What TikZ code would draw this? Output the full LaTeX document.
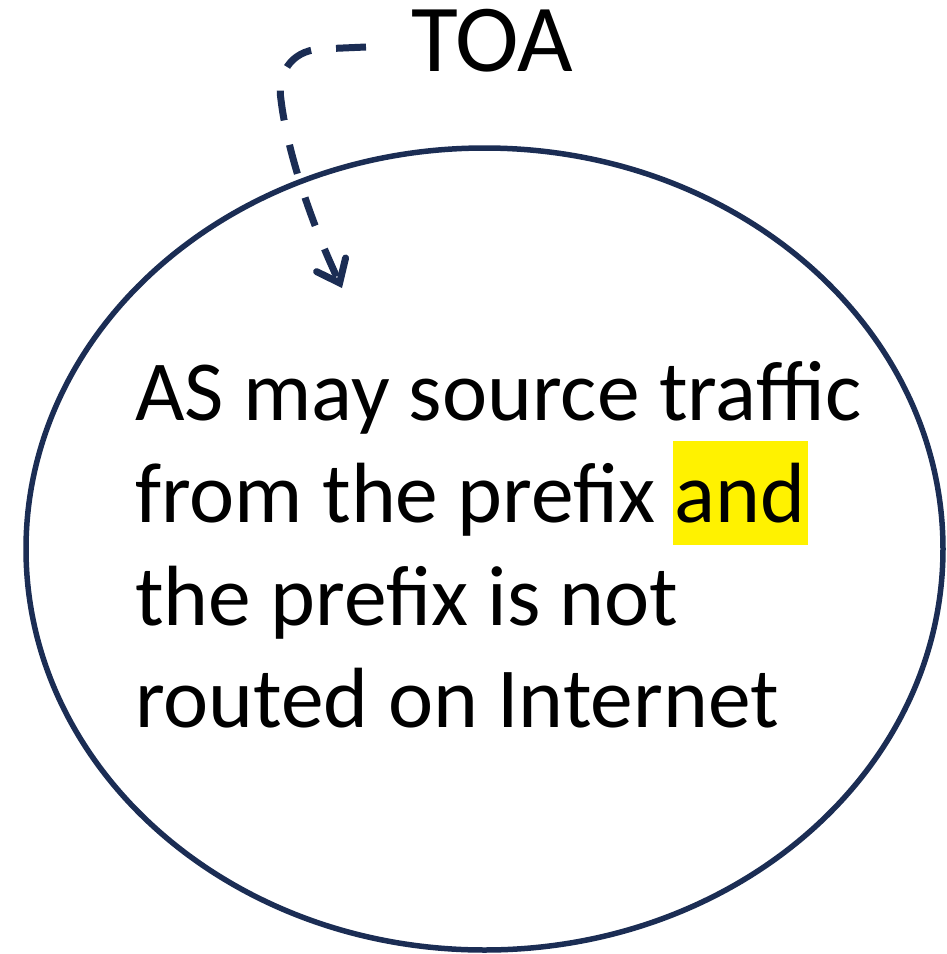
\documentclass[tikz,border=0pt]{standalone}
\usepackage{fontspec}
\setmainfont{Carlito}
\usetikzlibrary{shapes.geometric,arrows.meta}
\definecolor{navy}{HTML}{1B2D54}
% yellow highlight behind a word
\newcommand{\hlword}[1]{\begingroup\setbox0\hbox{#1}%
  \rlap{\kern-2pt\color{yellow}\rule[-23pt]{\dimexpr\wd0+4pt\relax}{104pt}}\box0\endgroup}
\tikzset{
  bodyline/.style={anchor=base west, inner sep=0pt, font=\fontsize{85.5}{102}\selectfont},
  region/.style={ellipse, draw=navy, line width=5.5pt, inner sep=0pt},
  flow/.style={draw=navy, line width=7pt, dash pattern=on 30pt off 25pt,
    -{Straight Barb[length=20pt,width=32pt,line width=7pt,line cap=round]}}
}
\begin{document}
\begin{tikzpicture}[x=1pt,y=-1pt]
  \useasboundingbox (0,0) rectangle (946,954);
  \node[region, minimum width=917pt, minimum height=802pt] (scope) at (484.5,549) {};
  \node[anchor=base west, inner sep=0pt, font=\fontsize{96}{110}\selectfont] (toa) at (411,71) {TOA};
  \node[bodyline] (l1) at (135,420) {AS may source traffic};
  \node[bodyline] (l2) at (135,522) {from the prefix \hlword{and}};
  \node[bodyline] (l3) at (135,625) {the prefix is not};
  \node[bodyline] (l4) at (135,727) {routed on Internet};
  \coordinate (arrowstart) at (366,47);
  \coordinate (arrowend) at (342,288);
  \draw[flow] (arrowstart) -- (320,49) .. controls (290,51) and (277,75) .. (281,100)
    .. controls (287,150) and (310,220) .. (arrowend);
\end{tikzpicture}
\end{document}
